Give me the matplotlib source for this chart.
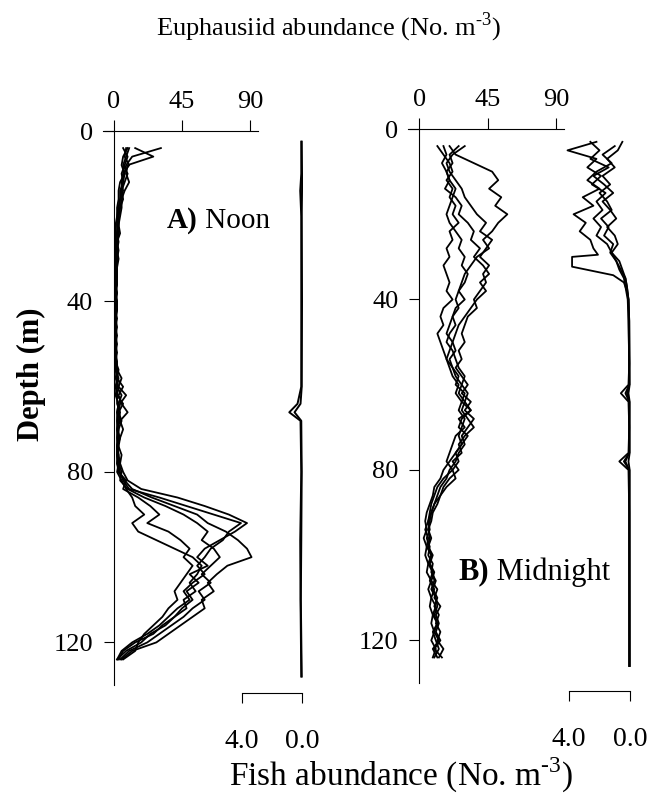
import matplotlib
matplotlib.use("Agg")
import matplotlib.pyplot as plt

plt.rcParams['font.family'] = ['Liberation Serif', 'DejaVu Serif']
plt.rcParams['mathtext.fontset'] = 'custom'
plt.rcParams['mathtext.rm'] = 'Liberation Serif'

# depth grid (m) for the euphausiid profiles
depth = list(range(4, 125, 2))

# A) Noon - euphausiid abundance (No. m-3), one list per profile
noon_1 = [31, 12, 8, 7, 6, 5, 6, 4, 3, 3,
          2, 3, 2, 2, 2, 1, 2, 1, 2, 1,
          1, 2, 1, 1, 1, 2, 2, 5, 3, 8,
          4, 3, 5, 3, 3, 2, 3, 4, 6, 9,
          18, 42, 60, 76, 88, 80, 70, 60, 55, 62,
          50, 56, 48, 52, 45, 40, 32, 26, 14, 6,
          3]
noon_2 = [14, 26, 9, 8, 10, 7, 5, 5, 4, 3,
          4, 2, 3, 2, 2, 2, 1, 2, 1, 2,
          1, 1, 2, 1, 2, 1, 3, 2, 6, 3,
          5, 9, 4, 6, 4, 3, 5, 4, 3, 7,
          12, 25, 40, 55, 62, 74, 82, 88, 91, 75,
          68, 62, 66, 58, 60, 52, 44, 36, 28, 12,
          5]
noon_3 = [8, 7, 10, 6, 5, 6, 4, 3, 3, 2,
          2, 2, 1, 2, 1, 1, 1, 2, 1, 1,
          1, 1, 1, 2, 1, 1, 2, 1, 3, 2,
          2, 4, 3, 2, 2, 3, 2, 3, 2, 5,
          8, 12, 14, 20, 12, 16, 28, 40, 52, 58,
          55, 50, 54, 46, 48, 40, 34, 24, 18, 8,
          2]
noon_4 = [10, 8, 6, 9, 7, 5, 5, 4, 3, 3,
          2, 2, 2, 3, 2, 2, 2, 1, 2, 2,
          1, 1, 1, 1, 1, 1, 1, 2, 2, 1,
          3, 2, 2, 3, 2, 2, 3, 2, 4, 6,
          10, 30, 48, 66, 84, 76, 72, 64, 60, 55,
          60, 52, 46, 50, 42, 36, 30, 22, 12, 5,
          2]
noon_5 = [6, 9, 7, 5, 6, 4, 4, 3, 2, 2,
          3, 2, 1, 1, 2, 1, 1, 1, 1, 1,
          2, 1, 1, 1, 1, 1, 1, 3, 2, 5,
          3, 2, 4, 2, 3, 2, 2, 3, 5, 4,
          9, 20, 34, 46, 55, 62, 58, 66, 70, 64,
          58, 64, 56, 60, 52, 46, 38, 30, 22, 10,
          4]
noon_6 = [9, 6, 5, 7, 4, 3, 3, 2, 2, 1,
          1, 1, 1, 1, 1, 1, 1, 1, 1, 1,
          1, 1, 1, 1, 1, 1, 2, 2, 1, 2,
          6, 3, 2, 2, 4, 2, 2, 2, 3, 8,
          6, 16, 24, 30, 22, 36, 44, 50, 46, 52,
          48, 44, 40, 42, 36, 32, 26, 20, 16, 14,
          6]

# B) Midnight - euphausiid abundance
night_1 = [20, 24, 36, 48, 52, 46, 54, 50, 58, 52,
           48, 42, 46, 38, 34, 30, 28, 26, 30, 24,
           22, 20, 18, 22, 20, 18, 22, 26, 24, 30,
           28, 34, 26, 30, 24, 22, 20, 18, 22, 16,
           12, 10, 8, 7, 6, 4, 6, 5, 8, 6,
           9, 7, 10, 8, 11, 9, 12, 10, 13, 9,
           12]
night_2 = [30, 22, 18, 20, 24, 28, 30, 34, 38, 44,
           40, 48, 44, 40, 46, 42, 44, 40, 36, 38,
           32, 30, 28, 30, 26, 28, 24, 28, 32, 28,
           34, 30, 36, 32, 28, 30, 26, 24, 20, 18,
           14, 12, 10, 8, 6, 7, 5, 7, 6, 9,
           8, 11, 9, 12, 10, 13, 11, 14, 12, 16,
           13]
night_3 = [12, 16, 20, 22, 18, 22, 20, 24, 22, 26,
           20, 22, 18, 20, 16, 18, 20, 18, 22, 16,
           14, 16, 12, 14, 16, 18, 20, 22, 26, 24,
           28, 26, 30, 28, 26, 28, 24, 20, 16, 14,
           10, 9, 7, 5, 4, 5, 3, 5, 4, 6,
           5, 8, 6, 8, 7, 9, 8, 10, 8, 11,
           9]
night_4 = [16, 18, 15, 18, 20, 17, 24, 28, 26, 32,
           36, 34, 40, 36, 42, 46, 40, 44, 38, 34,
           30, 26, 24, 22, 24, 20, 22, 24, 28, 26,
           30, 28, 32, 36, 30, 26, 28, 22, 26, 20,
           16, 14, 10, 8, 7, 6, 8, 6, 9, 7,
           10, 8, 12, 10, 14, 11, 13, 11, 14, 10,
           15]
night_5 = [26, 20, 22, 18, 20, 24, 22, 20, 18, 20,
           24, 28, 26, 30, 28, 32, 30, 26, 24, 26,
           22, 24, 20, 18, 22, 24, 26, 30, 28, 32,
           30, 34, 28, 26, 32, 28, 24, 26, 22, 24,
           18, 14, 12, 9, 8, 6, 7, 6, 8, 7,
           9, 10, 8, 11, 12, 10, 12, 9, 11, 13,
           10]

# fish abundance (No. m-3)
fish_A_depth = [2.5, 10, 14, 20, 40, 60, 64, 66, 68, 80, 96, 110, 128]
fish_A1 = [0.05, 0.05, 0.12, 0.05, 0.05, 0.05, 0.3, 0.85, 0.1, 0.05, 0.12, 0.1, 0.05]
fish_A2 = [0.02, 0.0, 0.0, 0.02, 0.0, 0.02, 0.1, 0.5, 0.05, 0.02, 0.05, 0.08, 0.02]

fish_B_depth = [3, 5, 7, 9, 11, 13, 15, 17, 19, 21, 23, 25, 27, 29, 31, 33,
                35, 37, 40, 45, 55, 60, 62, 64, 70, 76, 78, 80, 90, 110, 126]
fish_B1 = [2.2, 4.1, 2.2, 2.8, 1.9, 2.5, 1.6, 2.2, 1.8, 2.4,
           1.9, 2.2, 1.5, 1.2, 0.9, 0.6, 0.3, 0.2, 0.1, 0.05,
           0.05, 0.1, 0.6, 0.1, 0.05, 0.1, 0.7, 0.1, 0.05, 0.05, 0.05]
fish_B3 = [0.5, 0.8, 1.5, 1.0, 1.8, 1.3, 2.0, 1.5, 1.2, 1.9,
           1.4, 1.7, 1.1, 1.3, 0.9, 0.7, 0.4, 0.3, 0.15, 0.1,
           0.05, 0.05, 0.2, 0.05, 0.05, 0.05, 0.3, 0.05, 0.05, 0.05, 0.05]
fish_B4 = [2.6, 2.0, 2.6, 1.4, 2.4, 1.7, 1.1, 1.8, 1.3, 0.9,
           1.5, 1.0, 0.8, 1.2, 0.7, 0.5, 0.3, 0.2, 0.1, 0.05,
           0.02, 0.02, 0.1, 0.02, 0.02, 0.02, 0.1, 0.02, 0.02, 0.02, 0.02]
fish_B2_depth = [4, 6, 8, 10, 12, 14, 16, 18, 20, 22, 24, 26, 28, 29.5,
                 30, 32.3, 34.3, 36, 38, 40, 60, 62, 64, 76, 78, 80, 126]
fish_B2 = [1.0, 1.8, 1.2, 2.2, 2.8, 2.0, 3.1, 2.4, 3.7, 2.9,
           3.3, 2.6, 2.4, 2.1, 3.8, 3.8, 1.1, 0.4, 0.2, 0.1,
           0.05, 0.3, 0.05, 0.05, 0.4, 0.05, 0.02]

euph_ticks = [0, 45, 90]
depth_ticks = [0, 40, 80, 120]
fish_ticks = [0, 4]
fish_labels = ['0.0', '4.0']

FS = 19
LW = 1.3


def setup_panel(ax, euph_max, fish_max):
    # fish scale on a twin axis, drawn as a bracket under the panel
    axf = ax.twiny()
    axf.set_xlim(fish_max, 0)
    for s in ['top', 'left', 'right']:
        axf.spines[s].set_visible(False)
    axf.spines['bottom'].set_visible(True)
    axf.spines['bottom'].set_position(('outward', 6))
    axf.spines['bottom'].set_bounds(0, 4)
    axf.xaxis.set_ticks_position('bottom')
    axf.set_xticks(fish_ticks)
    axf.set_xticklabels(fish_labels)
    axf.tick_params(axis='x', direction='out', length=7, pad=19, labelsize=FS + 1)

    # euphausiid scale on top, depth on the left
    ax.set_xlim(-7.3, euph_max)
    ax.set_ylim(130, 0)
    for s in ['right', 'bottom']:
        ax.spines[s].set_visible(False)
    ax.spines['left'].set_position(('data', 0))
    ax.spines['top'].set_bounds(-7.3, 95)
    ax.xaxis.set_ticks_position('top')
    ax.set_xticks(euph_ticks)
    ax.set_yticks(depth_ticks)
    ax.tick_params(axis='x', direction='out', length=8, pad=5, labelsize=FS)
    ax.tick_params(axis='y', direction='out', length=7, pad=8, labelsize=FS)
    return axf


fig = plt.figure(figsize=(6.57, 8.01), dpi=100)
axA = fig.add_axes([0.1568, 0.1448, 0.3029, 0.6916])
axB = fig.add_axes([0.621, 0.1473, 0.3379, 0.6916])

fA = setup_panel(axA, 124.4, 13.27)
fB = setup_panel(axB, 138.6, 14.56)

for prof in [noon_1, noon_2, noon_3, noon_4, noon_5, noon_6]:
    axA.plot(prof, depth, color='black', lw=LW)
for prof in [night_1, night_2, night_3, night_4, night_5]:
    axB.plot(prof, depth, color='black', lw=LW)

for prof in [fish_A1, fish_A2]:
    fA.plot(prof, fish_A_depth, color='black', lw=1.4, clip_on=False)
for prof in [fish_B1, fish_B3, fish_B4]:
    fB.plot(prof, fish_B_depth, color='black', lw=LW, clip_on=False)
fB.plot(fish_B2, fish_B2_depth, color='black', lw=LW, clip_on=False)

# panel labels
tA = axA.text(35, 21, 'A)', fontsize=21, fontweight='bold', va='center')
axA.annotate(' Noon', xy=(1, 0.5), xycoords=tA, va='center', fontsize=21)
tB = axB.text(25.6, 104, 'B)', fontsize=22, fontweight='bold', va='center')
axB.annotate(' Midnight', xy=(1, 0.5), xycoords=tB, va='center', fontsize=22)

fig.text(0.5, 1 - 27 / 801, r'Euphausiid abundance (No. m$^{\text{-3}}$)',
         ha='center', va='center', fontsize=19)
fig.text(401 / 657, 1 - 775 / 801, r'Fish abundance (No. m$^{\text{-3}}$)',
         ha='center', va='center', fontsize=24)
fig.text(31 / 657, 1 - 374 / 801, 'Depth (m)', rotation=90, ha='center',
         va='center', fontsize=22, fontweight='bold')

fig.savefig('out.png', dpi=100)
